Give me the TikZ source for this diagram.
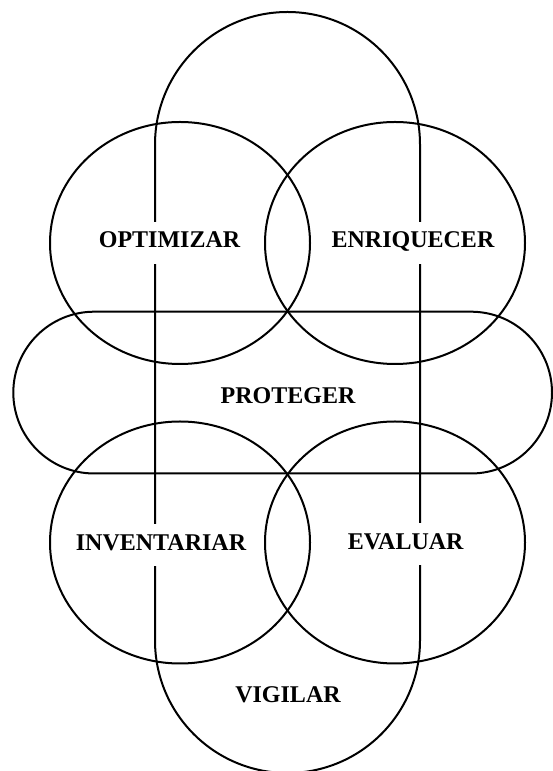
\documentclass[tikz,border=0pt]{standalone}
\usepackage{fontspec}
\setmainfont{Liberation Serif}
\usetikzlibrary{positioning}

\begin{document}
\begin{tikzpicture}[
    x=0.75pt, y=0.75pt,
    contorno/.style={draw, line width=1.5pt},
    etiqueta/.style={fill=white, inner xsep=2pt, text height=0.68em, text depth=0pt,
      minimum height=31.5pt, font=\fontsize{18}{20}\selectfont\bfseries}
  ]
    \useasboundingbox (0,0) rectangle (553,771);

    % franjas
    \draw[contorno, rounded corners=99.4pt] (155,-2) rectangle (420,759);
    \draw[contorno, rounded corners=60.7pt] (13.3,297.5) rectangle (552,459.3);

    % circulos
    \draw[contorno] (180,528) ellipse [x radius=130, y radius=121];
    \draw[contorno] (395,528) ellipse [x radius=130, y radius=121];
    \draw[contorno] (180,228.5) ellipse [x radius=130, y radius=121];
    \draw[contorno] (395,228.5) ellipse [x radius=130, y radius=121];

    \node[etiqueta] (opt) at (169.5,528) {OPTIMIZAR};
    \node[etiqueta] (enr) at (413,528) {ENRIQUECER};
    \node[etiqueta] (pro) at (288,372.5) {PROTEGER};
    \node[etiqueta] (inv) at (161,225.5) {INVENTARIAR};
    \node[etiqueta] (eva) at (405.7,226.5) {EVALUAR};
    \node[etiqueta] (vig) at (288,73) {VIGILAR};
  \end{tikzpicture}
\end{document}
